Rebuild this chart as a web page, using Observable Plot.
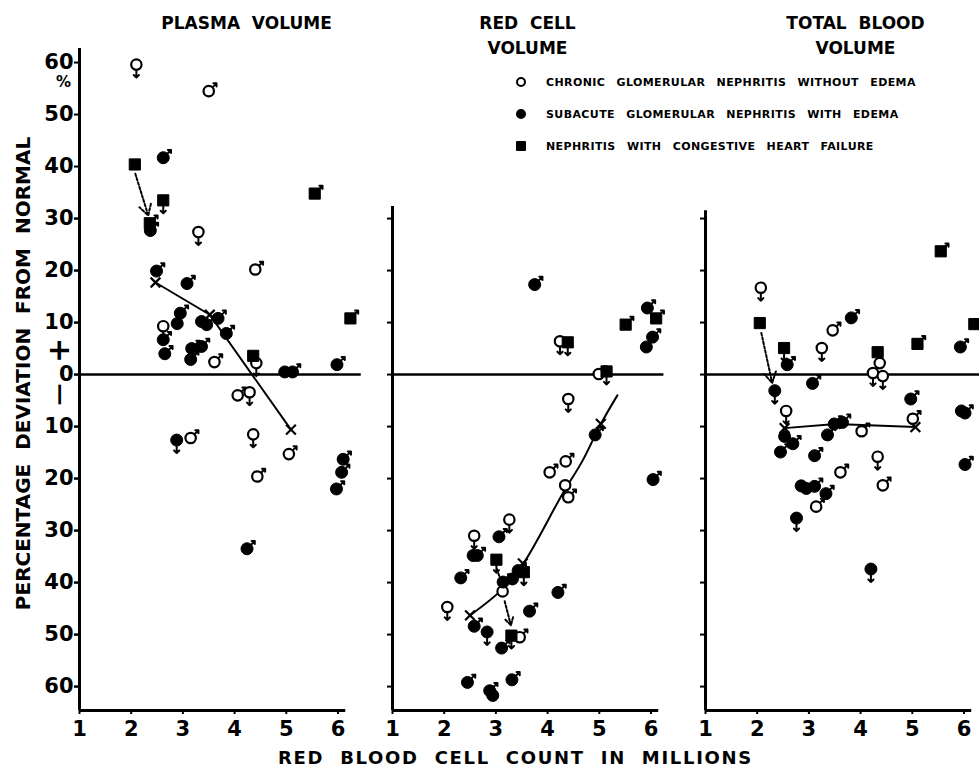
<!DOCTYPE html>
<html><head><meta charset="utf-8">
<script src="https://cdn.jsdelivr.net/npm/d3@7"></script>
<script src="https://cdn.jsdelivr.net/npm/@observablehq/plot@0.6"></script>
<style>
body{margin:0;background:#fff;}
#wrap{position:relative;width:979px;height:776px;overflow:hidden;font-family:"DejaVu Sans",sans-serif;}
#legend{position:absolute;left:516px;top:76px;font-weight:bold;font-size:11px;letter-spacing:0.4px;word-spacing:7px;color:#000;}
#legend .row{height:32px;display:flex;align-items:flex-start;}
#legend .sym{width:10px;height:10px;box-sizing:border-box;border:2px solid #000;margin-right:20px;margin-top:1px;}
g[aria-description="x-title"] text{letter-spacing:1.7px;}
</style></head><body><div id="wrap"><div id="legend"></div></div>
<script>
// ---- data: [RBC count (millions), % deviation, group, sex]
// group: "open" = chronic without edema, "filled" = subacute with edema, "square" = congestive heart failure
const panelKeys = ["plasma", "red", "total"];
const panelTitles = ["PLASMA  VOLUME", "RED  CELL\nVOLUME", "TOTAL  BLOOD\nVOLUME"];
const legendLabels = [
  "CHRONIC GLOMERULAR NEPHRITIS WITHOUT EDEMA",
  "SUBACUTE GLOMERULAR NEPHRITIS WITH EDEMA",
  "NEPHRITIS WITH CONGESTIVE HEART FAILURE"
];
const legendGroups = ["open", "filled", "square"];
const xTicks = [1, 2, 3, 4, 5, 6];
const yTicks = [60, 50, 40, 30, 20, 10, 0, -10, -20, -30, -40, -50, -60];
const yTicksShort = [30, 20, 10, 0, -10, -20, -30, -40, -50, -60];
const yBottom = -64.6;
const axisTops = [62.7, 32.3, 31.5];
const zeroEnds = [6.45, 6.25, 6.7];

const plasmaPoints = [
  [2.10, 59.6, "open", "f"], [3.50, 54.5, "open", "m"], [3.30, 27.4, "open", "f"], [4.40, 20.2, "open", "m"],
  [2.62, 9.3, "open", "f"], [3.61, 2.4, "open", "m"], [4.42, 2.2, "open", "f"], [4.06, -4.0, "open", "m"],
  [4.29, -3.4, "open", "f"], [3.15, -12.2, "open", "m"], [4.36, -11.5, "open", "f"], [5.05, -15.3, "open", "m"],
  [4.44, -19.6, "open", "m"],
  [2.62, 41.7, "filled", "m"], [2.37, 27.7, "filled", "m"], [2.49, 19.9, "filled", "m"], [3.08, 17.5, "filled", "m"],
  [2.95, 11.8, "filled", "m"], [2.89, 9.8, "filled", ""], [3.36, 10.2, "filled", ""], [3.46, 9.6, "filled", "m"],
  [3.68, 10.8, "filled", "m"], [3.84, 7.9, "filled", "m"], [2.62, 6.7, "filled", "m"], [2.65, 4.0, "filled", "m"],
  [3.17, 5.0, "filled", "m"], [3.36, 5.4, "filled", "m"], [3.15, 2.9, "filled", "m"], [4.97, 0.5, "filled", ""],
  [5.12, 0.5, "filled", "m"], [5.98, 1.9, "filled", "m"], [2.88, -12.6, "filled", "f"], [6.10, -16.3, "filled", "m"],
  [6.07, -18.8, "filled", "m"], [5.97, -22.0, "filled", "m"], [4.24, -33.5, "filled", "m"],
  [2.07, 40.4, "square", ""], [2.36, 29.1, "square", "m"], [2.62, 33.5, "square", "f"], [5.55, 34.8, "square", "m"],
  [4.36, 3.6, "square", ""], [6.24, 10.8, "square", "m"]
];
const redCellPoints = [
  [4.24, 6.4, "open", "f"], [4.99, 0.1, "open", "m"], [4.40, -4.7, "open", "f"], [4.04, -18.8, "open", "m"],
  [4.35, -16.7, "open", "m"], [4.34, -21.3, "open", "f"], [4.40, -23.6, "open", "m"], [3.26, -27.9, "open", "f"],
  [2.58, -31.0, "open", "f"], [3.13, -41.7, "open", ""], [2.06, -44.7, "open", "f"], [3.46, -50.5, "open", "m"],
  [3.75, 17.3, "filled", "m"], [5.93, 12.8, "filled", "m"], [6.03, 7.2, "filled", "m"], [5.91, 5.3, "filled", "m"],
  [4.92, -11.6, "filled", "m"], [6.04, -20.2, "filled", "m"], [3.06, -31.2, "filled", "m"], [2.56, -34.8, "filled", ""],
  [2.64, -34.8, "filled", "m"], [2.32, -39.1, "filled", "m"], [3.14, -39.9, "filled", "m"], [3.32, -39.3, "filled", "m"],
  [3.43, -37.7, "filled", "m"], [4.20, -41.9, "filled", "m"], [3.65, -45.5, "filled", "m"], [2.58, -48.4, "filled", "m"],
  [2.83, -49.5, "filled", "f"], [3.11, -52.6, "filled", "m"], [2.45, -59.2, "filled", "m"], [2.88, -60.8, "filled", "m"],
  [2.94, -61.7, "filled", ""], [3.31, -58.7, "filled", "m"],
  [6.10, 10.8, "square", "m"], [5.51, 9.6, "square", "m"], [4.39, 6.2, "square", "f"], [5.14, 0.6, "square", "f"],
  [3.01, -35.6, "square", "f"], [3.54, -38.0, "square", "f"], [3.30, -50.2, "square", "f"]
];
const totalPoints = [
  [2.07, 16.7, "open", "f"], [3.46, 8.5, "open", "m"], [3.25, 5.1, "open", "f"], [4.37, 2.2, "open", ""],
  [4.24, 0.3, "open", "f"], [4.43, -0.3, "open", "f"], [2.56, -7.0, "open", "f"], [5.01, -8.5, "open", "m"],
  [4.02, -10.9, "open", "m"], [4.33, -15.8, "open", "f"], [3.61, -18.8, "open", "m"], [4.43, -21.3, "open", "m"],
  [3.14, -25.4, "open", "m"],
  [3.82, 10.9, "filled", "m"], [2.58, 1.9, "filled", "m"], [3.07, -1.7, "filled", "m"], [2.34, -3.1, "filled", "f"],
  [4.97, -4.7, "filled", "m"], [5.93, 5.3, "filled", "m"], [5.95, -7.0, "filled", ""], [6.02, -7.4, "filled", "m"],
  [3.49, -9.5, "filled", "m"], [3.65, -9.2, "filled", "m"], [3.36, -11.6, "filled", "m"], [2.53, -11.9, "filled", ""],
  [2.69, -13.3, "filled", "m"], [2.45, -14.9, "filled", "m"], [3.11, -15.6, "filled", "m"], [6.02, -17.3, "filled", "m"],
  [2.85, -21.4, "filled", ""], [2.95, -21.9, "filled", ""], [3.11, -21.5, "filled", "m"], [3.33, -22.9, "filled", "m"],
  [2.76, -27.6, "filled", "f"], [4.20, -37.4, "filled", "f"],
  [5.55, 23.7, "square", "m"], [2.05, 9.9, "square", ""], [2.52, 5.1, "square", "f"], [4.33, 4.3, "square", ""],
  [5.10, 5.9, "square", "m"], [6.20, 9.7, "square", ""]
];
// mean-value lines (x markers at the nodes)
const plasmaLine = [[2.47, 17.7], [3.52, 11.5], [5.09, -10.6]];
const redCellLine = [[2.50, -46.3], [3.10, -41.5], [3.52, -36.5], [4.29, -22.9], [4.68, -16.5], [5.03, -9.5], [5.35, -4.0]];
const redCellMeans = [[2.50, -46.3], [3.52, -36.3], [5.03, -9.5]];
const totalLine = [[2.53, -10.3], [3.52, -9.5], [5.06, -10.1]];
// dotted arrows: [x1, y1, x2, y2]
const plasmaArrows = [[2.08, 38.6, 2.33, 30.6]];
const redCellArrows = [[3.02, -37.4, 3.10, -39.8], [3.17, -43.6, 3.29, -48.2]];
const totalArrows = [[2.08, 8.0, 2.29, -1.6]];

// ---- build tables
const toPts = (arr, panel) => arr.map(([x, y, g, s]) => ({panel, x, y, g, s}));
const pts = [...toPts(plasmaPoints, "plasma"), ...toPts(redCellPoints, "red"), ...toPts(totalPoints, "total")];
const toXY = (arr, panel) => arr.map(([x, y]) => ({panel, x, y}));
const toArr = (arr, panel) => arr.map(([x1, y1, x2, y2]) => ({panel, x1, y1, x2, y2}));
const means = [...toXY(plasmaLine, "plasma"), ...toXY(redCellMeans, "red"), ...toXY(totalLine, "total")];
const arrows = [...toArr(plasmaArrows, "plasma"), ...toArr(redCellArrows, "red"), ...toArr(totalArrows, "total")];
const axes = panelKeys.map((panel, i) => ({panel, top: axisTops[i], end: zeroEnds[i]}));

const bold = {fontWeight: "bold", fill: "black"};
const titleOffsets = [30, -2, 13];

const chart = Plot.plot({
  width: 979, height: 776,
  marginLeft: 78, marginRight: 0, marginTop: 48, marginBottom: 66,
  style: {fontFamily: "'DejaVu Sans', sans-serif", background: "white", color: "black"},
  fx: {domain: panelKeys, paddingInner: 0.126, paddingOuter: 0, axis: null, label: null},
  x: {domain: [1, 6.3], axis: null},
  y: {domain: [yBottom, 62.7], axis: null},
  marks: [
    Plot.ruleY(axes, {fx: "panel", y: 0, x1: 1, x2: "end", strokeWidth: 2.5}),
    Plot.ruleX(axes, {fx: "panel", x: 1, y1: yBottom, y2: "top", strokeWidth: 3}),
    Plot.ruleY(axes, {fx: "panel", y: yBottom, x1: 1, x2: 6.15, strokeWidth: 3}),
    Plot.axisY({ticks: yTicks, tickFormat: d => Math.abs(d), tickSize: 5, tickPadding: 1, fontSize: 21, fontWeight: "bold", strokeWidth: 2, label: null}),
    Plot.axisY({ticks: yTicksShort, tickFormat: () => "", tickSize: 5, strokeWidth: 2, facetAnchor: null, label: null}),
    Plot.axisX({ticks: xTicks, tickFormat: d => String(d), tickSize: 4, tickPadding: 7, fontSize: 21, fontWeight: "bold", strokeWidth: 2, label: null}),
    // mean lines
    Plot.line(toXY(plasmaLine, "plasma"), {x: "x", y: "y", fx: "panel", strokeWidth: 2}),
    Plot.line(toXY(redCellLine, "red"), {x: "x", y: "y", fx: "panel", strokeWidth: 2, curve: "catmull-rom"}),
    Plot.line(toXY(totalLine, "total"), {x: "x", y: "y", fx: "panel", strokeWidth: 2}),
    Plot.dot(means, {x: "x", y: "y", fx: "panel", symbol: "times", r: 4.5, strokeWidth: 2.2, stroke: "black"}),
    Plot.arrow(arrows, {x1: "x1", y1: "y1", x2: "x2", y2: "y2", fx: "panel", strokeWidth: 2, strokeDasharray: "2.5,2", headLength: 9}),
    // sex markers
    Plot.vector(pts.filter(d => d.s === "m"), {x: "x", y: "y", fx: "panel", rotate: 45, length: 11, anchor: "start", strokeWidth: 2, stroke: "black"}),
    Plot.vector(pts.filter(d => d.s === "f"), {x: "x", y: "y", fx: "panel", rotate: 180, length: 13, anchor: "start", strokeWidth: 2, stroke: "black"}),
    // symbols
    Plot.dot(pts.filter(d => d.g === "open"), {x: "x", y: "y", fx: "panel", r: 5.2, fill: "white", stroke: "black", strokeWidth: 2.2}),
    Plot.dot(pts.filter(d => d.g === "filled"), {x: "x", y: "y", fx: "panel", r: 6, fill: "black", stroke: "black", strokeWidth: 1}),
    Plot.dot(pts.filter(d => d.g === "square"), {x: "x", y: "y", fx: "panel", r: 6.3, symbol: "square", fill: "black", stroke: "black", strokeWidth: 1}),
    // panel titles
    ...panelKeys.map((k, i) => Plot.text([panelTitles[i]], {fx: () => k, text: d => d, frameAnchor: "top", dx: titleOffsets[i], dy: -38, lineAnchor: "top", lineHeight: 1.5, fontSize: 17, ...bold})),
    // axis titles
    Plot.text(["PERCENTAGE  DEVIATION  FROM  NORMAL"], {fx: () => "plasma", text: d => d, frameAnchor: "left", textAnchor: "middle", dx: -56, dy: -6, rotate: -90, fontSize: 20, ...bold}),
    Plot.text(["+"], {fx: () => "plasma", text: d => d, frameAnchor: "left", textAnchor: "middle", dx: -20, dy: -29, rotate: -90, fontSize: 30, ...bold}),
    Plot.text(["\u2014"], {fx: () => "plasma", text: d => d, frameAnchor: "left", textAnchor: "middle", dx: -21, dy: 15, rotate: -90, fontSize: 22, ...bold}),
    Plot.text(["%"], {fx: () => "plasma", text: d => d, frameAnchor: "top-left", textAnchor: "middle", dx: -16, dy: 28, fontSize: 15, ...bold}),
    Plot.text(["RED  BLOOD  CELL  COUNT  IN  MILLIONS"], {fx: () => "red", text: d => d, frameAnchor: "bottom", dx: -14, dy: 53, fontSize: 18, ...bold, ariaDescription: "x-title"})
  ]
});
const wrap = document.getElementById("wrap");
wrap.insertBefore(chart, wrap.firstChild);

// legend
const legend = document.getElementById("legend");
legendLabels.forEach((lab, i) => {
  const row = document.createElement("div");
  row.className = "row";
  const sym = document.createElement("span");
  sym.className = "sym";
  const g = legendGroups[i];
  sym.style.borderRadius = g === "square" ? "1px" : "50%";
  sym.style.background = g === "open" ? "#fff" : "#000";
  const t = document.createElement("span");
  t.textContent = lab;
  row.append(sym, t);
  legend.append(row);
});
</script></body></html>
